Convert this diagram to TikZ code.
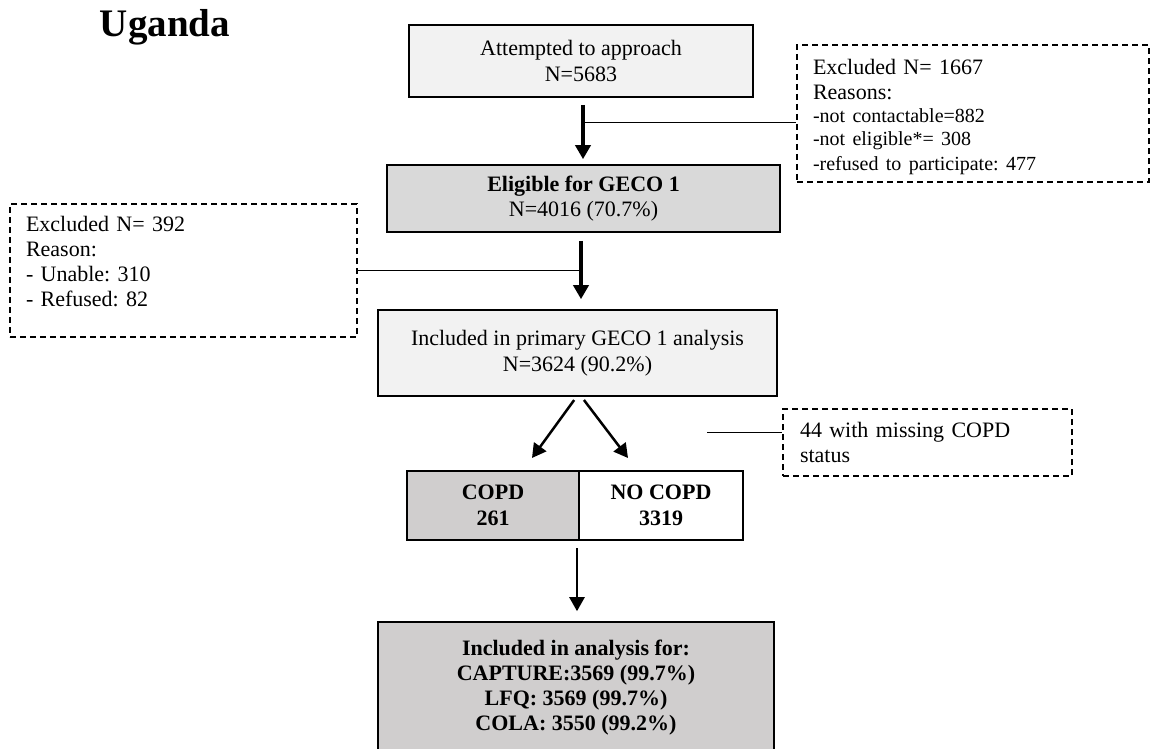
\documentclass[tikz,border=0pt]{standalone}
\usepackage{fontspec}
\setmainfont{Liberation Serif}
\usetikzlibrary{arrows.meta,positioning}

\definecolor{boxlight}{HTML}{F2F2F2}
\definecolor{boxmid}{HTML}{D9D9D9}
\definecolor{boxdark}{HTML}{D0CECE}

\tikzset{
  box/.style={draw, line width=1.6pt, align=center, inner sep=0pt,
    font=\fontsize{22}{25.5}\selectfont},
  excl/.style={draw, line width=2pt, dash pattern=on 6pt off 4pt,
    align=left, inner xsep=16pt, inner ysep=0pt,
    font=\fontsize{22}{25}\selectfont},
  arr/.style={->, line width=3.5pt},
  arrthin/.style={->, line width=2.5pt},
  link/.style={line width=0.8pt}
}

\begin{document}
\frenchspacing
\begin{tikzpicture}[x=1pt, y=-1pt, >={Triangle[length=14pt,width=15pt]}]
  \useasboundingbox (0,0) rectangle (1151,749);

  \node[font=\bfseries\fontsize{39}{44}\selectfont] (uganda) at (165,27) {Uganda};

  % main column
  \node[box, fill=boxlight, minimum width=344pt, minimum height=72pt] (approach) at (581,61)
    {Attempted to approach\\N=5683};
  \node[box, fill=boxmid, minimum width=393pt, minimum height=67pt] (eligible) at (583.5,198.5)
    {\textbf{Eligible for GECO 1}\\N=4016 (70.7\%)};
  \node[box, fill=boxlight, minimum width=399pt, minimum height=86pt] (primary) at (577.5,353)
    {Included in primary GECO 1 analysis\\N=3624 (90.2\%)};
  \node[box, fill=boxdark, outer sep=0pt, minimum width=172pt, minimum height=69pt,
    font=\bfseries\fontsize{22}{25.5}\selectfont] (copd) at (493,505.5) {COPD\\261};
  \node[box, fill=white, outer sep=0pt, minimum width=164pt, minimum height=69pt,
    font=\bfseries\fontsize{22}{25.5}\selectfont] (nocopd) [right=0pt of copd] {NO COPD\\3319};
  \node[box, fill=boxdark, minimum width=396pt, minimum height=132pt,
    font=\bfseries\fontsize{22}{25}\selectfont] (included) at (576,688)
    {Included in analysis for:\\CAPTURE:3569 (99.7\%)\\LFQ: 3569 (99.7\%)\\COLA: 3550 (99.2\%)};

  % exclusion boxes
  \node[excl, text width=320pt, minimum height=137pt] (exclapproach) at (973,113.5)
    {\rule{0pt}{22pt}Excluded N= 1667\\Reasons:\par
     \fontsize{20}{23}\selectfont -not contactable=882\\-not eligible*= 308\\-refused to participate: 477};
  \node[excl, text width=315pt, minimum height=133pt] (exclgeco) at (183.5,270.5)
    {Excluded N= 392\\Reason:\\- Unable: 310\\- Refused: 82\rule[-19pt]{0pt}{19pt}};
  \node[excl, inner xsep=17pt, text width=255pt, minimum height=67pt] (missing) at (927.5,442.5)
    {44 with missing COPD\\status};

  % connectors
  \coordinate (j1) at (583,122);
  \coordinate (j3) at (707,432);
  \coordinate (tipcopd) at (532,458);
  \coordinate (tipnocopd) at (628,458);

  \path[arr]
    ([xshift=2pt]approach.south) edge[shorten <=7pt, shorten >=5pt]
      ([xshift=2pt]approach.south |- eligible.north)
    ([xshift=-2.5pt]eligible.south) edge[shorten <=8pt, shorten >=10pt]
      ([xshift=-2.5pt]eligible.south |- primary.north);
  \path[arrthin]
    ([xshift=-1pt]primary.south) edge[shorten <=4pt] (tipcopd)
    ([xshift=4pt]primary.south) edge[shorten <=4pt] (tipnocopd)
    ([xshift=-2pt]copd.south east) edge[shorten <=8pt, shorten >=10pt]
      ([xshift=-2pt]copd.south east |- included.north);

  \draw[link] (j1) -- (j1 -| exclapproach.west);
  \draw[link] (exclgeco.east) -- (exclgeco.east -| 581,0);
  \draw[link] (j3) -- (j3 -| missing.west);
\end{tikzpicture}
\end{document}
